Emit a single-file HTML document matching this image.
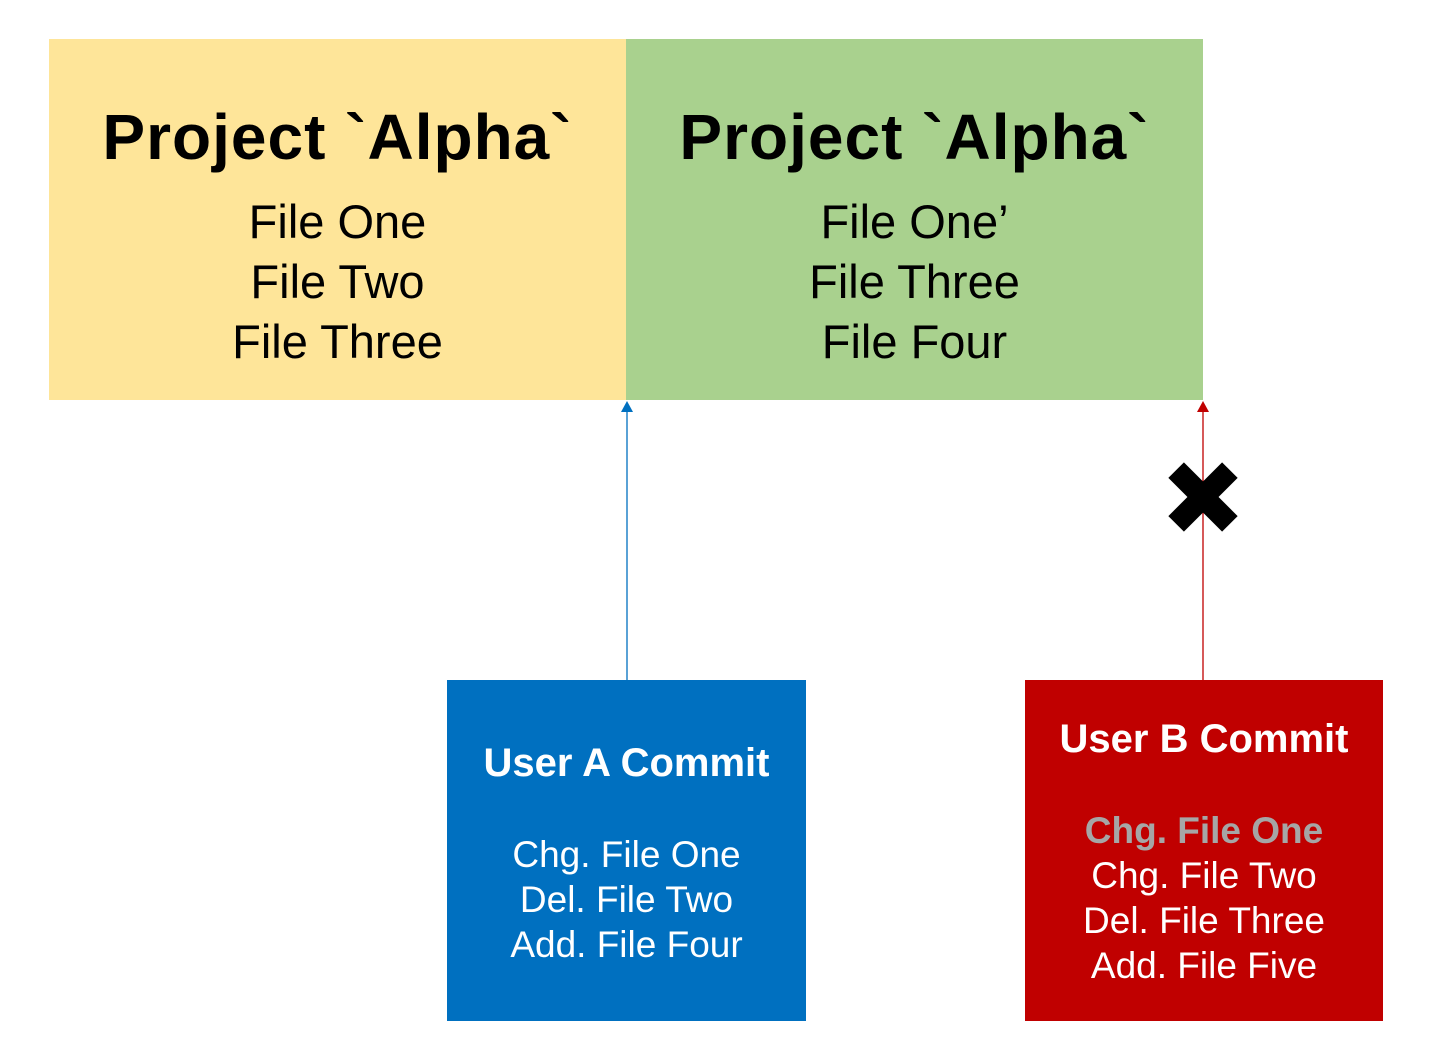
<!DOCTYPE html>
<html><head><meta charset="utf-8"><style>
body{margin:0;width:1430px;height:1059px;background:#fff;position:relative;overflow:hidden;font-family:"Liberation Sans","Noto Sans CJK KR",sans-serif;}
.b{position:absolute;text-align:center;}
.t{font-weight:bold;}
.l{position:absolute;left:0;width:100%;text-align:center;white-space:nowrap;}
</style></head><body>
<div class="b" style="left:49px;top:39px;width:577px;height:361px;background:#fee599"></div>
<div class="b" style="left:626px;top:39px;width:577px;height:361px;background:#a9d18e"></div>
<div class="b" style="left:49px;top:39px;width:577px;height:361px">
<div class="l t" style="top:63px;font-size:64px;line-height:70px;letter-spacing:1px">Project `Alpha`</div>
<div class="l" style="top:153px;font-size:47px;line-height:60px">File One<br>File Two<br>File Three</div>
</div>
<div class="b" style="left:626px;top:39px;width:577px;height:361px">
<div class="l t" style="top:63px;font-size:64px;line-height:70px;letter-spacing:1px">Project `Alpha`</div>
<div class="l" style="top:153px;font-size:47px;line-height:60px">File One’<br>File Three<br>File Four</div>
</div>
<div class="b" style="left:447px;top:680px;width:359px;height:341px;background:#0070c0;color:#fff">
<div class="l t" style="top:58px;font-size:40px;line-height:50px">User A Commit</div>
<div class="l" style="top:152px;font-size:37px;line-height:45px">Chg. File One<br>Del. File Two<br>Add. File Four</div>
</div>
<div class="b" style="left:1025px;top:680px;width:358px;height:341px;background:#c00000;color:#fff">
<div class="l t" style="top:34px;font-size:40px;line-height:50px">User B Commit</div>
<div class="l" style="top:128px;font-size:37px;line-height:45px"><b style="color:#a6a6a6">Chg. File One</b><br>Chg. File Two<br>Del. File Three<br>Add. File Five</div>
</div>
<svg width="1430" height="1059" style="position:absolute;left:0;top:0">
<line x1="627" y1="680" x2="627" y2="410" stroke="#0070c0" stroke-width="1.3"/>
<polygon points="627,401 621,412 633,412" fill="#0070c0"/>
<line x1="1203" y1="680" x2="1203" y2="410" stroke="#c00000" stroke-width="1.3"/>
<polygon points="1203,401 1197,412 1209,412" fill="#c00000"/>
<g transform="translate(1203,497) rotate(45)">
<rect x="-38" y="-11" width="76" height="22" fill="#000"/>
<rect x="-11" y="-38" width="22" height="76" fill="#000"/>
</g>
</svg>
</body></html>
